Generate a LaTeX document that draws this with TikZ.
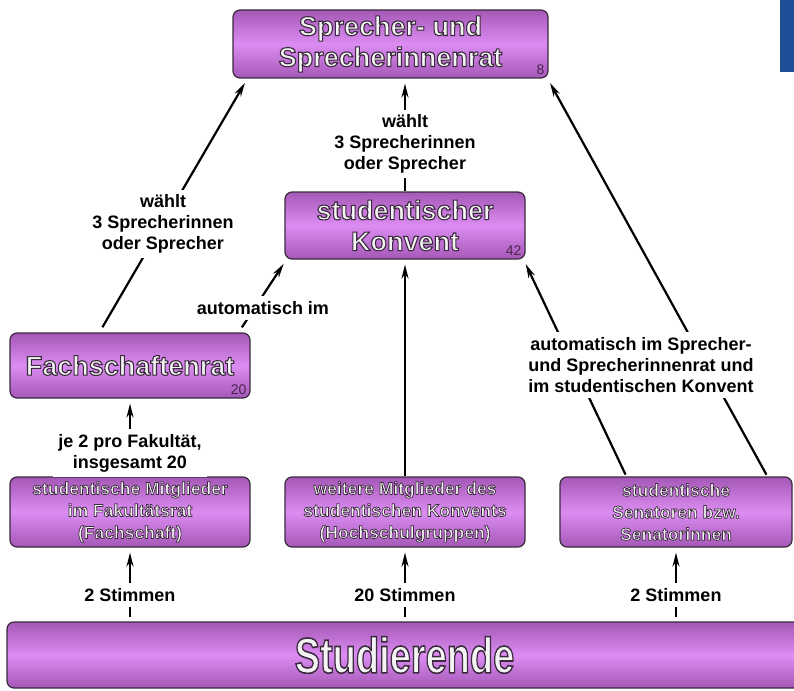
\documentclass[tikz,border=0pt]{standalone}
\usepackage{fontspec}
\setmainfont{Liberation Sans}
\usetikzlibrary{arrows.meta,calc}

\definecolor{boxlight}{HTML}{DC8CF2}
\definecolor{boxdark}{HTML}{A458B6}
\definecolor{boxline}{HTML}{3A2A3E}
\definecolor{olfill}{HTML}{F4F4F4}
\definecolor{numcol}{HTML}{4A2452}
\definecolor{barblue}{HTML}{1F4E96}

% outlined text: fill light, stroke dark
\newcommand{\olt}[2][1.1]{\textcolor{olfill}{%
  \special{pdf:literal direct 2 Tr #1 w 0.23 0.16 0.24 RG}#2%
  \special{pdf:literal direct 0 Tr}}}

\tikzset{
  box/.style={draw=boxline, line width=1.2pt, rounded corners=7pt,
    top color=boxdark, bottom color=boxdark, middle color=boxlight,
    align=center, inner sep=0pt},
  titlebox/.style={box, font=\bfseries\fontsize{27}{31}\selectfont},
  membox/.style={box, font=\bfseries\fontsize{17.5}{22}\selectfont,
    minimum width=240pt, minimum height=70pt},
  cnt/.style={anchor=south east, font=\fontsize{14}{14}\selectfont,
    text=numcol, inner sep=4pt},
  lbl/.style={fill=white, font=\bfseries\fontsize{18}{21}\selectfont,
    align=center, inner sep=5pt},
  arr/.style={-{Stealth[length=14pt,width=7pt]}, line width=2.2pt,
    shorten >=5pt},
}

\begin{document}
\begin{tikzpicture}[x=1pt, y=-1pt]
    \useasboundingbox (0,0) rectangle (794,690);
    \clip (0,0) rectangle (794,690);
    \fill[barblue] (780,0) rectangle (794,72);

    % boxes
    \node[titlebox, minimum width=315pt, minimum height=68pt] (spr) at (390.5,44)
        {\olt{Sprecher- und}\\\olt{Sprecherinnenrat}};
    \node[titlebox, minimum width=240pt, minimum height=67pt] (konv) at (405,225.5)
        {\olt{studentischer}\\\olt{Konvent}};
    \node[titlebox, minimum width=240pt, minimum height=65pt] (fach) at (130,365.5)
        {\olt{Fachschaftenrat}};
    \node[membox] (mitg) at (130,512)
        {\olt[0.7]{studentische Mitglieder}\\\olt[0.7]{im Fakultätsrat}\\\olt[0.7]{(Fachschaft)}};
    \node[membox] (weit) at (405,512)
        {\olt[0.7]{weitere Mitglieder des}\\\olt[0.7]{studentischen Konvents}\\\olt[0.7]{(Hochschulgruppen)}};
    \node[membox, minimum width=232pt] (sen) at (676,512)
        {\olt[0.7]{studentische}\\\olt[0.7]{Senatoren bzw.}\\\olt[0.7]{Senatorinnen}};
    \node[box, minimum width=795pt, minimum height=66pt,
        font=\bfseries\fontsize{50}{50}\selectfont] (stud) at (404.5,655)
        {\olt[1.6]{\scalebox{0.76}[1]{Studierende}}};

    \node[cnt] (nspr) at (spr.south east) {8};
    \node[cnt] (nkonv) at (konv.south east) {42};
    \node[cnt] (nfach) at (fach.south east) {20};

    % connectors
    \draw[arr, shorten <=6pt] ([xshift=90pt]fach.north west) -- ([xshift=15pt]spr.south west);
    \draw[arr] (konv.north) -- ([xshift=14.5pt]spr.south);
    \draw[arr, shorten <=6pt] ([xshift=-12pt]fach.north east) -- ([xshift=2pt]konv.south west);
    \draw[arr] (mitg.north) -- (fach.south);
    \draw[arr] (weit.north) -- (konv.south);
    \draw[arr, shorten <=2pt] ([xshift=67pt]sen.north west) -- ([xshift=-2pt]konv.south east);
    \draw[arr, shorten <=2pt] ([xshift=208pt]sen.north west) -- ([xshift=-1pt]spr.south east);
    \draw[arr, shorten <=4pt] (stud.north -| mitg) -- (mitg.south);
    \draw[arr, shorten <=4pt] (stud.north -| weit) -- (weit.south);
    \draw[arr, shorten <=4pt] (stud.north -| sen) -- (sen.south);

    % labels
    \node[lbl] (lwahll) at (163,224) {wählt\\3 Sprecherinnen\\oder Sprecher};
    \node[lbl] (lwahlm) at (405,144) {wählt\\3 Sprecherinnen\\oder Sprecher};
    \node[lbl] (lauto) at (263,308) {automatisch im};
    \node[lbl] (lsen) at (641,365)
        {automatisch im Sprecher-\\und Sprecherinnenrat und\\im studentischen Konvent};
    \node[lbl] (lfak) at (130,453) {je 2 pro Fakultät,\\insgesamt 20};
    \node[lbl] (lstl) at (130,595) {2 Stimmen};
    \node[lbl] (lstm) at (405,595) {20 Stimmen};
    \node[lbl] (lstr) at (676,595) {2 Stimmen};
\end{tikzpicture}
\end{document}
